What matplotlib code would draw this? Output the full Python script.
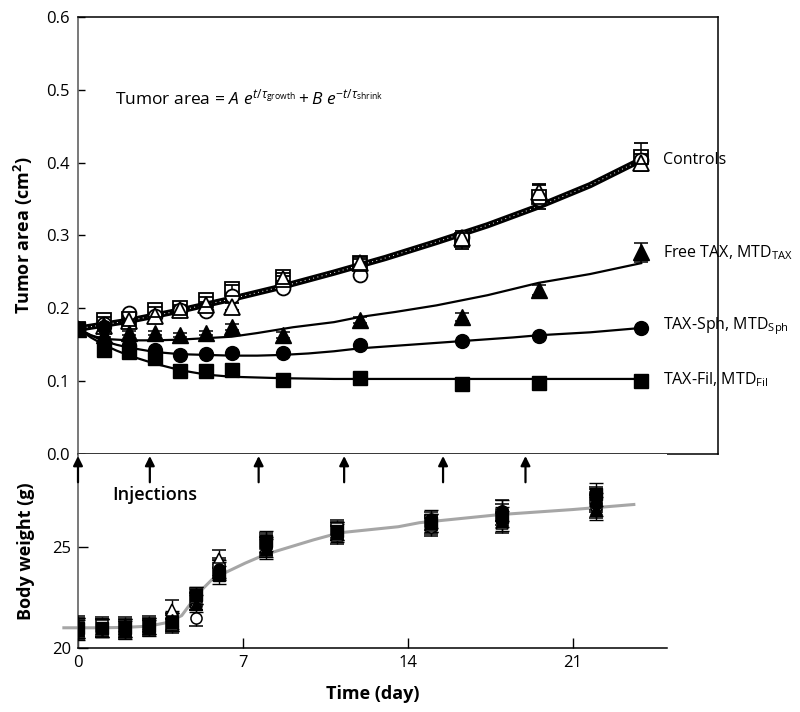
import matplotlib
matplotlib.use("Agg")
import matplotlib.pyplot as plt
import numpy as np

plt.rcParams['font.family'] = ['Open Sans', 'DejaVu Sans']
plt.rcParams['mathtext.fontset'] = 'custom'
plt.rcParams['mathtext.rm'] = 'Open Sans'
plt.rcParams['mathtext.it'] = 'Open Sans:italic'
plt.rcParams['mathtext.bf'] = 'Open Sans:bold'

# ---------------- data ----------------
days = [0, 1, 2, 3, 4, 5, 6, 8, 11, 15, 18, 22]

# tumor area (cm^2)
ctrl_sq = [0.172, 0.184, 0.185, 0.198, 0.200, 0.211, 0.226, 0.243, 0.262, 0.294, 0.353, 0.408]
ctrl_ci = [0.172, 0.178, 0.194, 0.190, 0.198, 0.196, 0.217, 0.228, 0.246, 0.298, 0.350, 0.404]
ctrl_tr = [0.172, 0.176, 0.182, 0.189, 0.198, 0.205, 0.202, 0.240, 0.262, 0.296, 0.360, 0.400]
free_tax = [0.172, 0.163, 0.166, 0.166, 0.163, 0.166, 0.174, 0.163, 0.184, 0.188, 0.225, 0.277]
tax_sph = [0.172, 0.174, 0.150, 0.143, 0.136, 0.137, 0.138, 0.138, 0.150, 0.155, 0.162, 0.173]
tax_fil = [0.172, 0.143, 0.140, 0.132, 0.114, 0.114, 0.115, 0.102, 0.104, 0.096, 0.097, 0.100]
ctrl_sq_err = [0.004, 0.004, 0.004, 0.004, 0.005, 0.005, 0.006, 0.006, 0.008, 0.012, 0.016, 0.019]
ctrl_tr_err = [0.003, 0.003, 0.003, 0.004, 0.004, 0.004, 0.005, 0.005, 0.006, 0.008, 0.010, 0.012]
free_tax_err = [0.003, 0.003, 0.003, 0.003, 0.003, 0.003, 0.004, 0.004, 0.004, 0.005, 0.007, 0.013]

# fitted curves
ctrl_fit_d = [0, 2, 4, 6, 8, 10, 12, 14, 16, 18, 20, 22]
ctrl_fit_v = [0.172, 0.183, 0.197, 0.213, 0.230, 0.249, 0.269, 0.291, 0.314, 0.340, 0.369, 0.404]
free_fit_d = [0, 0.5, 1, 2, 3, 4, 5, 6, 7, 8.4, 10, 11, 12.4, 14, 16, 18, 20, 22]
free_fit_v = [0.172, 0.163, 0.158, 0.156, 0.156, 0.157, 0.159, 0.161, 0.166, 0.174, 0.181, 0.188,
              0.195, 0.204, 0.218, 0.235, 0.247, 0.262]
sph_fit_d = [0, 0.5, 1, 1.5, 2, 3, 4, 5, 6, 7, 8, 9, 10, 11, 13, 15, 17, 18, 20, 22]
sph_fit_v = [0.172, 0.163, 0.155, 0.150, 0.146, 0.140, 0.137, 0.136, 0.135, 0.135, 0.136, 0.138,
             0.141, 0.145, 0.150, 0.155, 0.160, 0.163, 0.167, 0.173]
fil_fit_d = [0, 0.5, 1, 1.5, 2, 3, 4, 5, 6, 8, 10, 14, 18, 22]
fil_fit_v = [0.172, 0.160, 0.150, 0.142, 0.135, 0.124, 0.115, 0.109, 0.106, 0.104, 0.103, 0.103,
             0.103, 0.103]

labels = ['Controls', r'Free TAX, MTD$_{\mathrm{TAX}}$', r'TAX-Sph, MTD$_{\mathrm{Sph}}$',
          r'TAX-Fil, MTD$_{\mathrm{Fil}}$']
label_y = [0.404, 0.277, 0.176, 0.102]

# body weight (g)
bw_ctrl_sq = [21.0, 21.1, 21.0, 21.1, 21.2, 22.5, 23.9, 25.2, 25.9, 26.3, 26.6, 27.4]
bw_ctrl_ci = [20.9, 21.0, 20.9, 21.0, 21.3, 21.5, 24.0, 25.1, 25.8, 26.0, 26.8, 27.0]
bw_ctrl_tr = [21.1, 21.0, 21.1, 21.2, 21.9, 22.3, 24.4, 25.0, 25.6, 26.1, 26.2, 27.3]
bw_free = [20.9, 21.0, 20.9, 21.0, 21.4, 22.2, 23.8, 24.9, 25.7, 26.2, 26.3, 26.9]
bw_sph = [21.0, 21.0, 21.0, 21.1, 21.3, 22.6, 23.9, 25.0, 25.8, 26.4, 26.8, 27.1]
bw_fil = [21.0, 21.0, 21.0, 21.1, 21.3, 22.6, 23.6, 25.3, 25.8, 26.2, 26.5, 27.6]
bw_err = [0.5, 0.45, 0.45, 0.4, 0.45, 0.4, 0.45, 0.5, 0.45, 0.45, 0.5, 0.55]
bw_fit_d = [-0.6, 1, 2, 3, 3.7, 4.4, 5.1, 5.7, 6.2, 7.1, 7.9, 8.3, 10, 11.1, 13.6, 14.5, 17.9, 21, 23.6]
bw_fit_w = [21.0, 21.0, 21.02, 21.08, 21.24, 21.6, 22.7, 23.4, 23.7, 24.2, 24.6, 24.75, 25.35, 25.7,
            26.0, 26.2, 26.6, 26.85, 27.1]

injection_days = [0, 3.05, 7.67, 11.3, 15.5, 19.0]

# ---------------- figure ----------------
fig = plt.figure(figsize=(8.0, 7.12), dpi=100)
ax = fig.add_axes([0.0975, 0.3624, 0.8, 0.6138])
bx = fig.add_axes([0.0975, 0.0899, 0.736, 0.2725])

# top panel
ax.set_xlim(0, 25)
ax.set_ylim(0, 0.6)
ax.set_yticks([0, 0.1, 0.2, 0.3, 0.4, 0.5, 0.6])
ax.set_yticklabels(['0.0', '0.1', '0.2', '0.3', '0.4', '0.5', '0.6'])
ax.set_xticks([])
ax.tick_params(axis='y', direction='in', length=5, width=1, labelsize=12, pad=6)
ax.spines['left'].set_color('#555555')
for s in ax.spines.values():
    s.set_linewidth(1.1)

# fitted curves
ax.plot(ctrl_fit_d, ctrl_fit_v, color='black', lw=4.5, solid_capstyle='round', zorder=3)
ax.plot(ctrl_fit_d, ctrl_fit_v, color='white', lw=0.7, dashes=(1, 3.5), zorder=3.1)
ax.plot(free_fit_d, free_fit_v, color='black', lw=1.6, zorder=3)
ax.plot(sph_fit_d, sph_fit_v, color='black', lw=1.6, zorder=3)
ax.plot(fil_fit_d, fil_fit_v, color='black', lw=1.6, zorder=3)

ekw = dict(ecolor='black', elinewidth=1.1, capsize=5, capthick=1.1, linestyle='none', zorder=4)
ax.errorbar(days, ctrl_ci, marker='o', ms=10, mfc='white', mec='black', mew=1.3, **ekw)
ax.errorbar(days, ctrl_tr, yerr=ctrl_tr_err, marker='^', ms=11, mfc='white', mec='black', mew=1.3, **ekw)
ax.errorbar(days, ctrl_sq, yerr=ctrl_sq_err, marker='s', ms=10, mfc='none', mec='black', mew=1.3, **ekw)
ax.errorbar(days, free_tax, yerr=free_tax_err, marker='^', ms=11, mfc='black', mec='black', **ekw)
ax.errorbar(days, tax_sph, marker='o', ms=10, mfc='black', mec='black', **ekw)
ax.errorbar(days, tax_fil, marker='s', ms=10, mfc='black', mec='black', **ekw)

for lab, yv in zip(labels, label_y):
    ax.text(22.85, yv, lab, fontsize=11.5, va='center', ha='left')

ax.text(1.45, 0.488,
        r'Tumor area = $A\ e^{t/\tau_{\mathrm{growth}}} + B\ e^{-t/\tau_{\mathrm{shrink}}}$',
        fontsize=12.5, va='center', ha='left')
ax.set_ylabel(r'Tumor area (cm$^\mathbf{2}$)', fontsize=13, fontweight='bold', labelpad=8)

# bottom panel
bx.set_xlim(0, 25)
bx.set_ylim(20, 29.6)
bx.set_xticks([0, 7, 14, 21])
bx.set_yticks([20, 25])
bx.tick_params(axis='both', direction='in', length=7, width=1, labelsize=12, pad=5)
bx.spines['top'].set_visible(False)
bx.spines['right'].set_visible(False)
bx.spines['left'].set_color('#555555')
bx.spines['left'].set_linewidth(1.1)
bx.spines['bottom'].set_linewidth(1.1)

bx.plot(bw_fit_d, bw_fit_w, color='#a6a6a6', lw=2.2, zorder=2, clip_on=False)
bkw = dict(yerr=bw_err, ecolor='black', elinewidth=1.0, capsize=5, capthick=1.0,
           linestyle='none', zorder=4, ms=8)
bx.errorbar(days, bw_ctrl_ci, marker='o', mfc='white', mec='black', mew=1.1, **bkw)
bx.errorbar(days, bw_ctrl_tr, marker='^', mfc='white', mec='black', mew=1.1, **bkw)
bx.errorbar(days, bw_ctrl_sq, marker='s', mfc='white', mec='black', mew=1.1, **bkw)
bx.errorbar(days, bw_free, marker='^', mfc='black', mec='black', **bkw)
bx.errorbar(days, bw_sph, marker='o', mfc='black', mec='black', **bkw)
bx.errorbar(days, bw_fil, marker='s', mfc='black', mec='black', **bkw)

for d in injection_days:
    bx.annotate('', xy=(d, 29.5), xytext=(d, 28.2),
                arrowprops=dict(arrowstyle='-|>', color='black', lw=1.6, mutation_scale=14,
                                shrinkA=0, shrinkB=0), annotation_clip=False)
bx.text(1.44, 27.55, 'Injections', fontsize=13, va='center', ha='left', fontweight='semibold')

bx.set_ylabel('Body weight (g)', fontsize=13, fontweight='bold', labelpad=12)
bx.set_xlabel('Time (day)', fontsize=13, fontweight='bold', labelpad=10)

fig.align_ylabels([ax, bx])
fig.savefig('out.png', dpi=100)
